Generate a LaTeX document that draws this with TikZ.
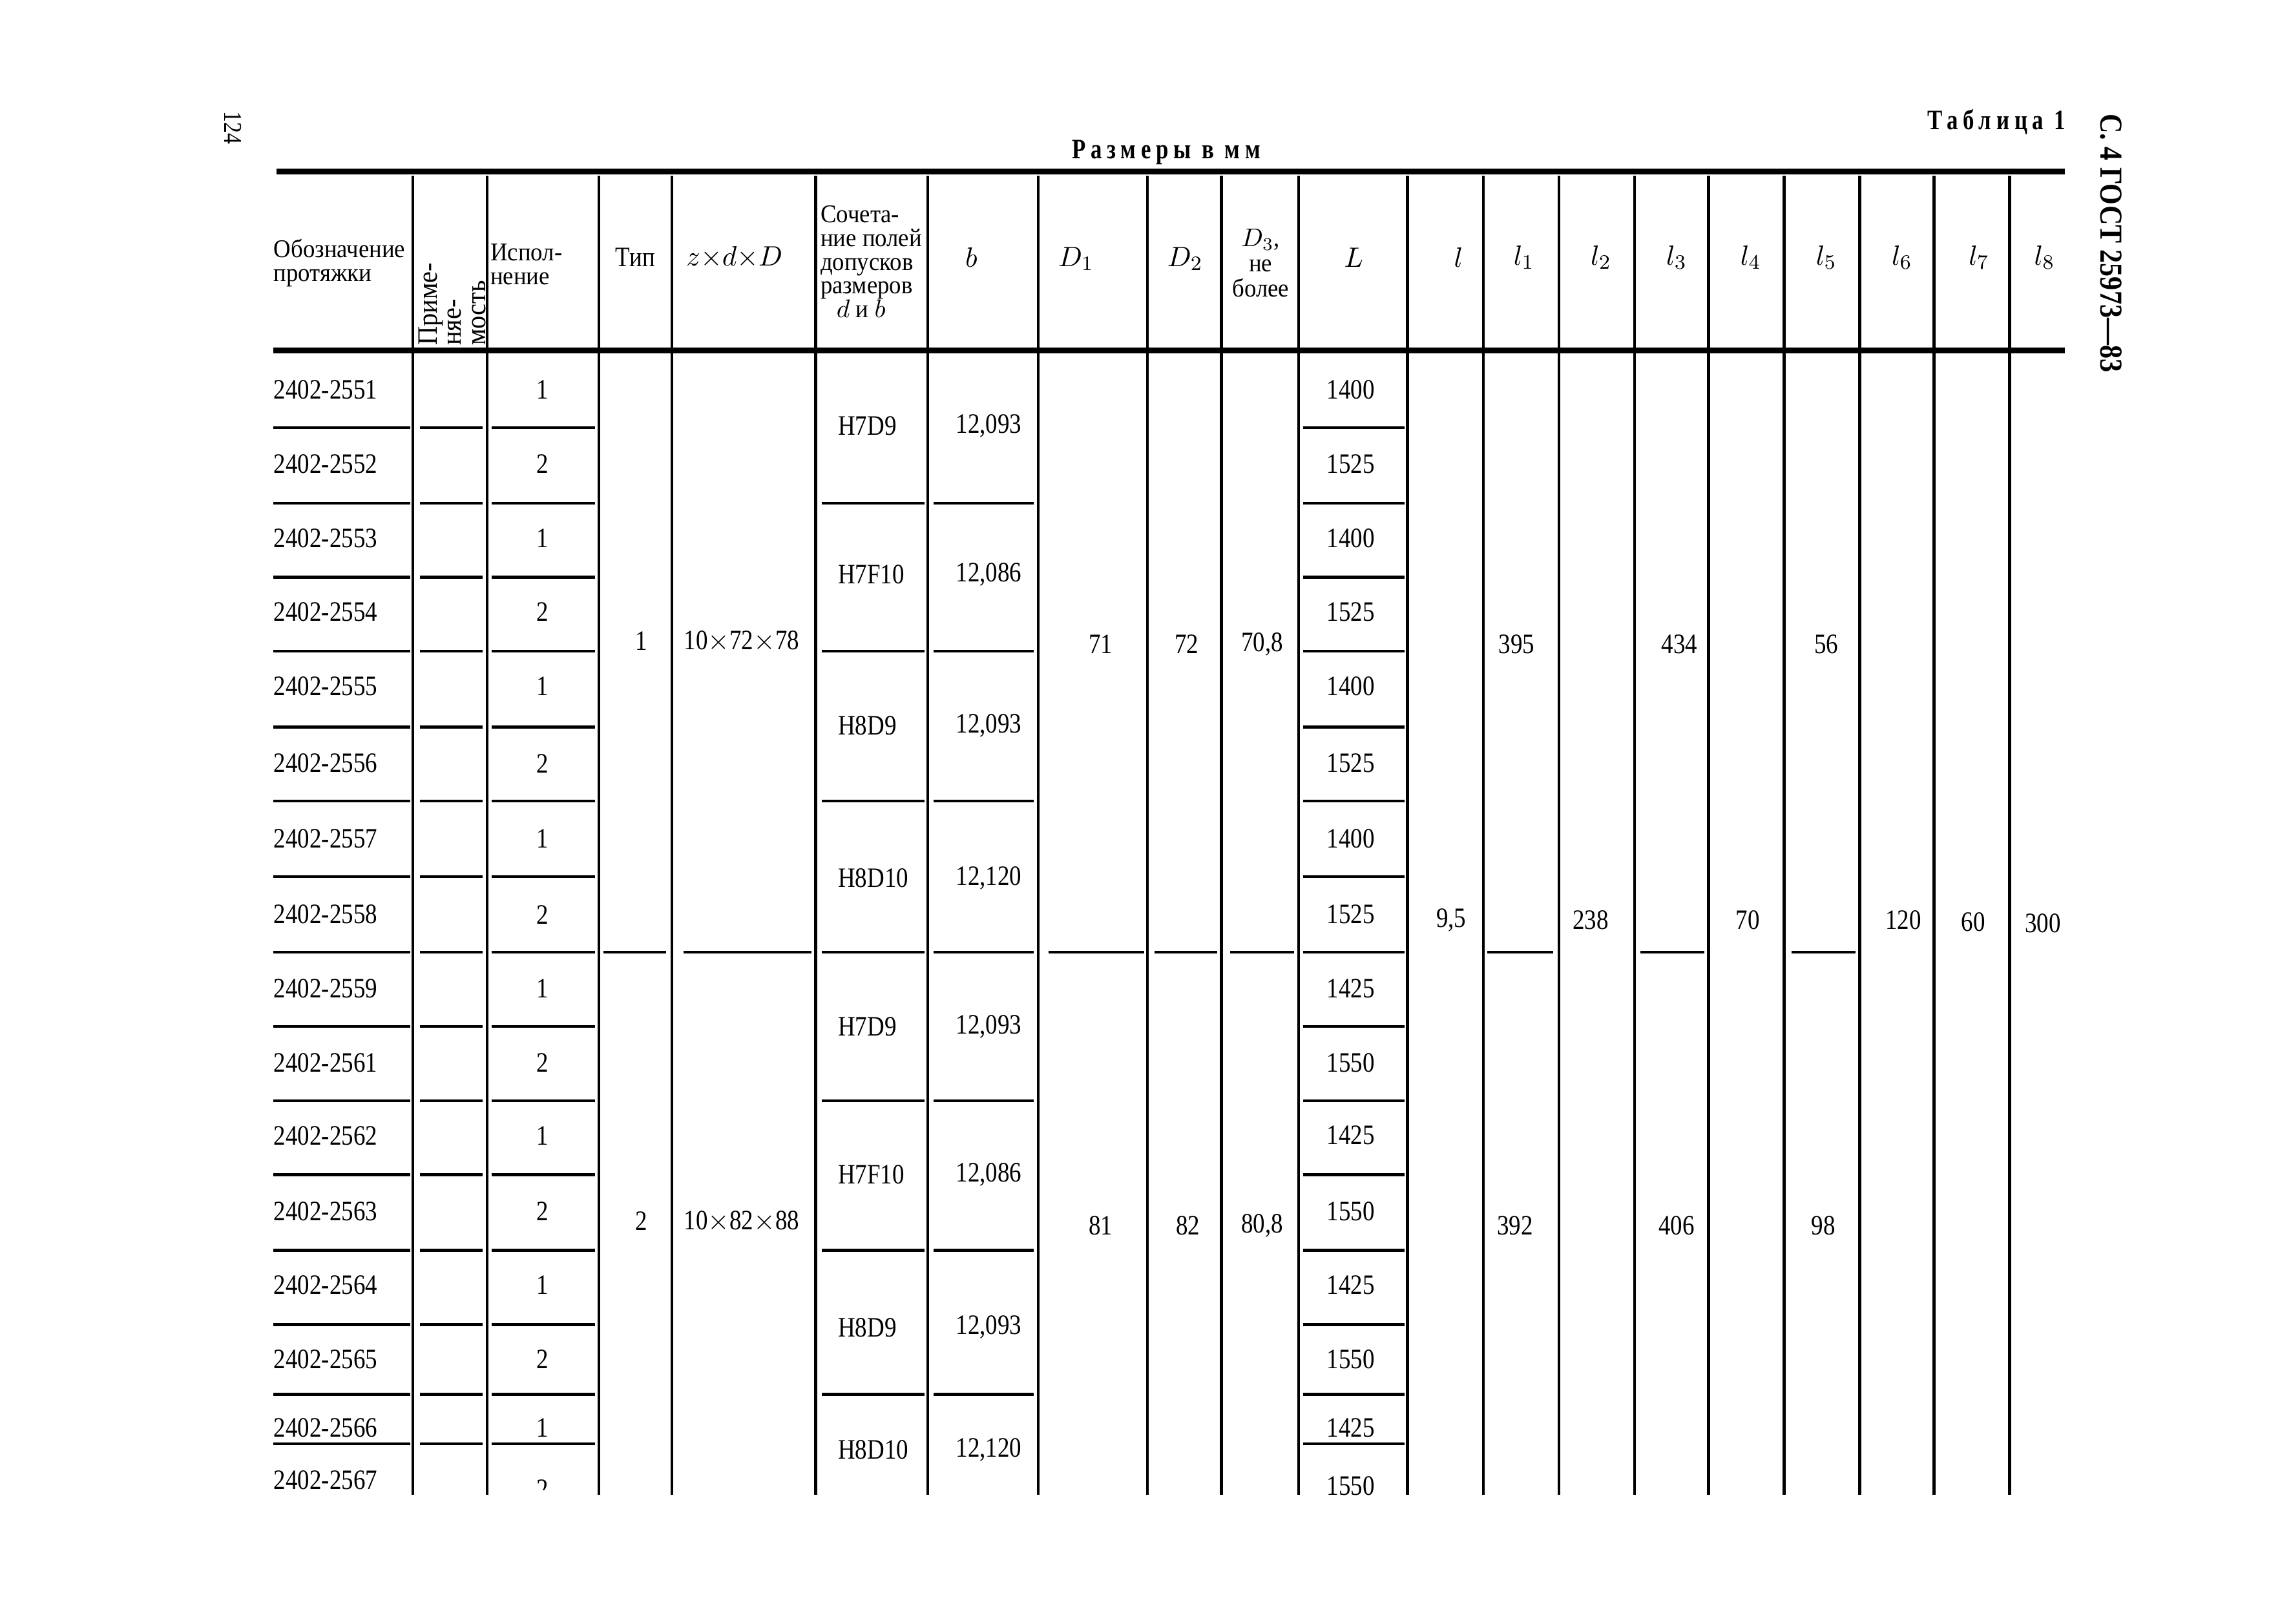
\documentclass[tikz,border=0pt]{standalone}
\usepackage{amsmath}
\usepackage{fontspec}
\setmainfont{Liberation Serif}[FakeStretch=0.85]
\newfontfamily\headfont{Liberation Serif}[FakeStretch=0.8,LetterSpace=18]
\newfontfamily\hdrfont{Liberation Serif}[FakeStretch=0.93]

\begin{document}
\begin{tikzpicture}[x=0.2mm,y=-0.2mm,
        every node/.style={inner sep=0pt,font=\fontsize{11}{9}\selectfont},
        hdr/.style={font=\hdrfont\fontsize{10}{9.3}\selectfont},
        thickrule/.style={line width=2.3pt},
        thinrule/.style={line width=1.1pt}]
        \useasboundingbox (0,0) rectangle (1568,1117);

        % 页码和标题
        \node[rotate=-90] (pagenum) at (160,88) {\fontsize{10}{10}\selectfont 124};
        \node[rotate=-90,anchor=west] (gost) at (1452,78) {\fontsize{12.5}{12}\selectfont\bfseries С.~4 ГОСТ 25973—83};
        \node (tabname) at (1373,84) {\headfont\bfseries Таблица 1};
        \node (units) at (802,105) {\headfont\bfseries Размеры в мм};

        % 粗线
        \draw[thickrule] (190,118) -- (1420,118);
        \draw[thickrule] (188,241) -- (1420,241);

        % 竖线
        \foreach \x in {284,335,412,462,561,638,714,789,840,893,968,1020,1072,1124,1175,1227,1279,1330,1382}
            \draw[thinrule] (\x,121) -- (\x,1028);

        % 每行的横线
        \foreach \y in {294,346,397,448,500,551,603,655,706,757,808,860,911,959,993} {
            \draw[thinrule] (188,\y) -- (282,\y);
            \draw[thinrule] (289,\y) -- (332,\y);
            \draw[thinrule] (338,\y) -- (409,\y);
            \draw[thinrule] (896,\y) -- (966,\y);
        }
        % 每两行的横线
        \foreach \y in {346,448,551,655,757,860,959} {
            \draw[thinrule] (565,\y) -- (636,\y);
            \draw[thinrule] (642,\y) -- (711,\y);
        }
        % 两组之间的横线
        \foreach \a/\z in {415/458,470/558,721/787,794/837,846/890,1023/1068,1128/1172,1232/1276}
            \draw[thinrule] (\a,655) -- (\z,655);

        % 表头
        \node[hdr,anchor=west,align=left] (hdes) at (188,181) {Обозначение\\протяжки};
        \node[rotate=90,anchor=west,align=left,font=\hdrfont\fontsize{11}{9.4}\selectfont] (huse) at (311,238) {Приме-\\няе-\\мость};
        \node[hdr,anchor=west,align=left] (hisp) at (337,182) {Испол-\\нение};
        \node (htip) at (437,177) {Тип};
        \node (hsize) at (505,177) {$z{\times}d{\times}D$};
        \node[hdr,anchor=west,align=left] (hfit) at (564,180) {Сочета-\\ние полей\\допусков\\размеров\\\hspace{2.2mm}$d$ и $b$};
        \node (hb) at (668,177) {$b$};
        \node (hdone) at (740,178) {$D_1$};
        \node (hdtwo) at (815,178) {$D_2$};
        \node[hdr,align=center,font=\hdrfont\fontsize{10}{9.8}\selectfont] (hdthree) at (867,181) {$D_3$,\\не\\более};
        \node (hlen) at (931,177) {$L$};
        \node (hl) at (1003,177) {$l$};
        \foreach \x/\k in {1048/1,1101/2,1153/3,1204/4,1256/5,1308/6,1361/7,1406/8}
            \node (hl\k) at (\x,177) {$l_{\k}$};

        % 每行的数据
        \foreach \y/\n/\ex/\len [count=\i] in {268/2551/1/1400,319/2552/2/1525,370/2553/1/1400,421/2554/2/1525,
                472/2555/1/1400,525/2556/2/1525,577/2557/1/1400,629/2558/2/1525,680/2559/1/1425,731/2561/2/1550,
                781/2562/1/1425,833/2563/2/1550,884/2564/1/1425,935/2565/2/1550,982/2566/1/1425} {
            \node[anchor=west] (des\i) at (188,\y) {2402-\n};
            \node (isp\i) at (373,\y) {\ex};
            \node (len\i) at (929,\y) {\len};
        }
        \node[anchor=west] (des16) at (188,1018) {2402-2567};
        \node (len16) at (929,1022) {1550};
        \begin{scope}
            \clip (340,1000) rectangle (408,1025);
            \node (isp16) at (373,1024) {2};
        \end{scope}

        % 公差和 b
        \foreach \y/\comb/\bv [count=\i] in {293/H7D9/12{,}093,395/H7F10/12{,}086,499/H8D9/12{,}093,604/H8D10/12{,}120,
                706/H7D9/12{,}093,808/H7F10/12{,}086,913/H8D9/12{,}093,997/H8D10/12{,}120} {
            \node[anchor=west] (fit\i) at (576,\y) {\comb};
            \node (bval\i) at (680,\y) {\bv};
        }

        % 第一组
        \node (tip1) at (441,441) {1};
        \node (size1) at (510,441) {10$\times$72$\times$78};
        \node (done1) at (757,443) {71};
        \node (dtwo1) at (816,443) {72};
        \node (dthree1) at (868,443) {70,8};
        \node (lone1) at (1043,443) {395};
        \node (lthree1) at (1155,443) {434};
        \node (lfive1) at (1256,443) {56};
        % 第二组
        \node (tip2) at (441,840) {2};
        \node (size2) at (510,840) {10$\times$82$\times$88};
        \node (done2) at (757,843) {81};
        \node (dtwo2) at (817,843) {82};
        \node (dthree2) at (868,843) {80,8};
        \node (lone2) at (1042,843) {392};
        \node (lthree2) at (1153,843) {406};
        \node (lfive2) at (1254,843) {98};
        % 共用的值
        \node (lzero) at (998,633) {9,5};
        \node (ltwo) at (1094,633) {238};
        \node (lfour) at (1202,633) {70};
        \node (lsix) at (1309,633) {120};
        \node (lseven) at (1357,634) {60};
        \node (leight) at (1405,635) {300};
    \end{tikzpicture}
\end{document}
